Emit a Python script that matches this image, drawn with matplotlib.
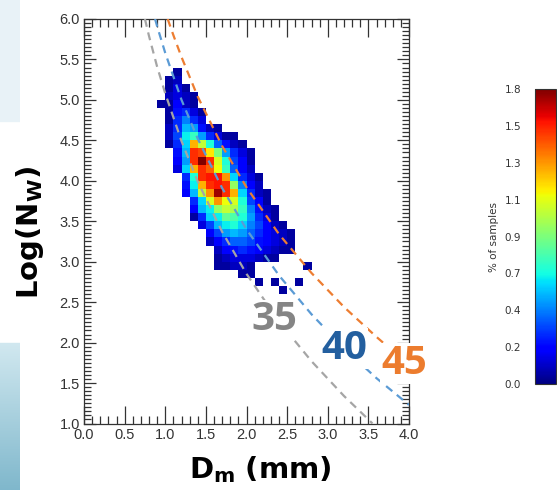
import numpy as np
import matplotlib
matplotlib.use('Agg')
import matplotlib.pyplot as plt
from matplotlib.ticker import MultipleLocator, FormatStrFormatter

plt.rcParams['mathtext.fontset'] = 'dejavusans'

# Joint frequency of Dm / log10(Nw), 0.1 x 0.1 bins, in % of samples
dm_edges = np.linspace(0.9, 2.8, 20)
nw_edges = np.linspace(2.6, 5.4, 29)
# rows from log(Nw) 5.3-5.4 (top) down to 2.6-2.7, columns Dm 0.9 ... 2.7
freq = [
    [0, 0, .05, 0, 0, 0, 0, 0, 0, 0, 0, 0, 0, 0, 0, 0, 0, 0, 0],
    [0, .05, .10, 0, 0, 0, 0, 0, 0, 0, 0, 0, 0, 0, 0, 0, 0, 0, 0],
    [0, .05, .15, .05, 0, 0, 0, 0, 0, 0, 0, 0, 0, 0, 0, 0, 0, 0, 0],
    [0, .10, .15, .10, .05, 0, 0, 0, 0, 0, 0, 0, 0, 0, 0, 0, 0, 0, 0],
    [.05, .05, .20, .10, .05, 0, 0, 0, 0, 0, 0, 0, 0, 0, 0, 0, 0, 0, 0],
    [0, .05, .25, .30, .15, .05, 0, 0, 0, 0, 0, 0, 0, 0, 0, 0, 0, 0, 0],
    [0, .05, .30, .45, .30, .15, 0, 0, 0, 0, 0, 0, 0, 0, 0, 0, 0, 0, 0],
    [0, .10, .30, .55, .50, .25, .10, .05, 0, 0, 0, 0, 0, 0, 0, 0, 0, 0, 0],
    [0, .10, .35, .65, .75, .50, .30, .15, .05, .05, 0, 0, 0, 0, 0, 0, 0, 0, 0],
    [0, .05, .30, .60, 1.30, 1.05, .70, .40, .25, .10, .05, 0, 0, 0, 0, 0, 0, 0, 0],
    [0, 0, .25, .55, 1.55, 1.50, 1.20, .90, .50, .30, .15, .05, 0, 0, 0, 0, 0, 0, 0],
    [0, 0, .20, .50, 1.55, 1.80, 1.55, 1.10, .70, .35, .20, .05, 0, 0, 0, 0, 0, 0, 0],
    [0, 0, .15, .60, 1.30, 1.55, 1.45, 1.15, .75, .40, .20, .10, 0, 0, 0, 0, 0, 0, 0],
    [0, 0, 0, .30, .70, 1.55, 1.60, 1.60, 1.35, .60, .30, .15, .05, 0, 0, 0, 0, 0, 0],
    [0, 0, 0, .25, .65, 1.30, 1.55, 1.60, 1.55, .95, .45, .20, .10, 0, 0, 0, 0, 0, 0],
    [0, 0, 0, .20, .55, 1.05, 1.35, 1.75, 1.55, 1.30, .60, .30, .10, .05, 0, 0, 0, 0, 0],
    [0, 0, 0, 0, .30, .60, 1.10, 1.35, 1.15, 1.10, .70, .35, .20, .05, 0, 0, 0, 0, 0],
    [0, 0, 0, 0, .20, .55, .65, .95, 1.05, 1.00, .75, .45, .25, .10, .05, 0, 0, 0, 0],
    [0, 0, 0, 0, .05, .30, .60, .65, .85, .80, .70, .50, .30, .15, .05, 0, 0, 0, 0],
    [0, 0, 0, 0, 0, .15, .35, .55, .65, .70, .60, .45, .35, .20, .10, .05, 0, 0, 0],
    [0, 0, 0, 0, 0, 0, .20, .35, .50, .55, .50, .40, .30, .20, .15, .10, .05, 0, 0],
    [0, 0, 0, 0, 0, 0, .10, .20, .30, .40, .40, .35, .25, .20, .15, .10, .05, 0, 0],
    [0, 0, 0, 0, 0, 0, 0, .10, .20, .25, .30, .25, .20, .15, .10, .05, .05, 0, 0],
    [0, 0, 0, 0, 0, 0, 0, .05, .10, .15, .15, .15, .10, .05, .05, 0, 0, 0, 0],
    [0, 0, 0, 0, 0, 0, 0, .05, .05, .10, .10, .05, 0, 0, 0, 0, 0, 0, .05],
    [0, 0, 0, 0, 0, 0, 0, 0, 0, 0, .05, .05, 0, 0, 0, 0, 0, 0, 0],
    [0, 0, 0, 0, 0, 0, 0, 0, 0, 0, 0, 0, .05, 0, .05, 0, 0, .05, 0],
    [0, 0, 0, 0, 0, 0, 0, 0, 0, 0, 0, 0, 0, 0, 0, .05, 0, 0, 0],
]

# constant reflectivity lines (dBZ) in Dm - log(Nw) space
dm_35 = [0.75, 0.8, 0.9, 1.0, 1.2, 1.4, 1.7, 2.0, 2.4, 2.8, 3.2, 3.5, 3.55]
nw_35 = [6.0, 5.79, 5.41, 5.08, 4.49, 3.99, 3.37, 2.85, 2.26, 1.77, 1.34, 1.05, 1.0]
dm_40 = [0.875, 0.9, 1.0, 1.2, 1.4, 1.7, 2.0, 2.4, 2.8, 3.2, 3.6, 4.0]
nw_40 = [6.0, 5.91, 5.58, 5.00, 4.52, 3.91, 3.40, 2.83, 2.35, 1.93, 1.56, 1.23]
dm_45 = [1.03, 1.1, 1.2, 1.4, 1.7, 2.0, 2.4, 2.8, 3.2, 3.6, 3.9, 4.0]
nw_45 = [6.0, 5.80, 5.53, 5.04, 4.43, 3.92, 3.34, 2.86, 2.44, 2.07, 1.81, 1.74]

z_labels = ['35', '40', '45']
z_label_pos = [(2.34, 2.28), (3.20, 1.93), (3.94, 1.74)]
line_colors = ['#a5a5a5', '#5b9bd5', '#ed7d31']
text_colors = ['#858585', '#235f9f', '#ec7c2e']

cbar_ticks = [0, 0.225, 0.45, 0.675, 0.9, 1.125, 1.35, 1.575, 1.8]
cbar_labels = ['0.0', '0.2', '0.4', '0.7', '0.9', '1.1', '1.3', '1.5', '1.8']

W, H = 557, 490
fig = plt.figure(figsize=(W / 100, H / 100), dpi=100)

# light slide background strip on the left edge
strip = fig.add_axes([0, 0, 20 / W, 1], zorder=-10)
bg = np.ones((H, 1, 3))
bg[:123] = [0.91, 0.95, 0.97]
n = H - 343
bg[343:, 0, 0] = np.linspace(0.82, 0.50, n)
bg[343:, 0, 1] = np.linspace(0.91, 0.72, n)
bg[343:, 0, 2] = np.linspace(0.94, 0.80, n)
strip.imshow(bg, aspect='auto', extent=[0, 1, 0, 1])
strip.axis('off')

ax = fig.add_axes([84 / W, 1 - 423.5 / H, 325 / W, 404.5 / H])

mesh = ax.pcolormesh(dm_edges, nw_edges, np.ma.masked_equal(np.array(freq)[::-1], 0),
                     cmap='jet', vmin=0, vmax=1.8, zorder=1)

for dm, nw, c in zip([dm_35, dm_40, dm_45], [nw_35, nw_40, nw_45], line_colors):
    ax.plot(dm, nw, color=c, lw=1.6, ls=(0, (3.6, 2.6)), zorder=3)

for lab, (x, y), c in zip(z_labels, z_label_pos, text_colors):
    ax.text(x, y, lab, color=c, fontsize=29, fontweight='bold', family='Open Sans',
            ha='center', va='center', zorder=6, clip_on=False,
            bbox=dict(fc='white', ec='none', pad=0.5))

ax.set_xlim(0, 4)
ax.set_ylim(1, 6)
ax.xaxis.set_major_locator(MultipleLocator(0.5))
ax.xaxis.set_minor_locator(MultipleLocator(0.1))
ax.yaxis.set_major_locator(MultipleLocator(0.5))
ax.yaxis.set_minor_locator(MultipleLocator(0.05))
ax.xaxis.set_major_formatter(FormatStrFormatter('%.1f'))
ax.yaxis.set_major_formatter(FormatStrFormatter('%.1f'))
ax.tick_params(which='both', direction='in', top=True, right=True, color='#333333', width=0.9)
ax.tick_params(axis='x', which='major', length=13)
ax.tick_params(axis='x', which='minor', length=5.8)
ax.tick_params(axis='y', which='major', length=8.6)
ax.tick_params(axis='y', which='minor', length=5)
ax.tick_params(which='major', labelsize=10.5, labelcolor='#333333', pad=3)
for lab in ax.get_xticklabels() + ax.get_yticklabels():
    lab.set_family('Liberation Sans')
for s in ax.spines.values():
    s.set_color('#333333')
    s.set_linewidth(0.9)

fig.text(260.5 / W, 1 - 470 / H, r'$\mathbf{D_m\ (mm)}$', fontsize=21, ha='center', va='center')
fig.text(30 / W, 1 - 232 / H, r'$\mathbf{Log(N_W)}$', fontsize=21, rotation=90,
         ha='center', va='center')

cax = fig.add_axes([535 / W, 1 - 384 / H, 21 / W, 295 / H])
cb = fig.colorbar(mesh, cax=cax, ticks=cbar_ticks)
cb.ax.yaxis.set_ticks_position('left')
cb.ax.yaxis.set_label_position('left')
cb.ax.set_yticklabels(cbar_labels)
cb.ax.tick_params(length=0, pad=10, labelsize=7.5, labelcolor='#333333')
cb.set_label('% of samples', fontsize=7.5, color='#333333', labelpad=4)
cb.outline.set_linewidth(0.8)
cb.outline.set_edgecolor('#333333')

fig.savefig('out.png', dpi=100)
